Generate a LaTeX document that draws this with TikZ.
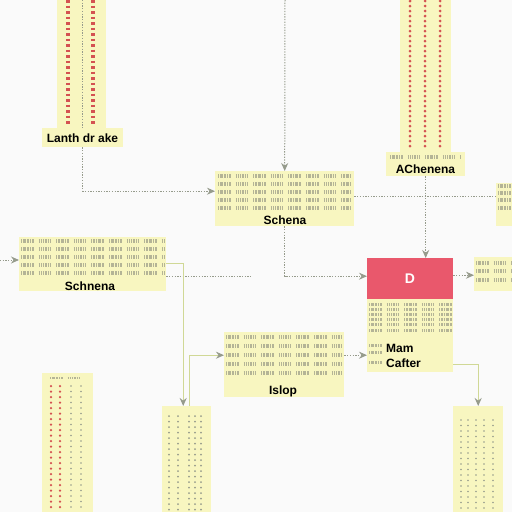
\documentclass[tikz,border=0pt]{standalone}
\usepackage{fontspec}
\setsansfont{Liberation Sans}
\usetikzlibrary{arrows.meta,positioning}
\definecolor{padYellow}{RGB}{248,246,192}
\definecolor{dRed}{RGB}{233,88,108}
\definecolor{dotRed}{RGB}{212,82,82}
\definecolor{wireGray}{RGB}{150,155,140}
\definecolor{wireGreen}{RGB}{208,216,150}
\definecolor{glyphGray}{RGB}{180,180,150}
\definecolor{paper}{RGB}{250,250,250}

\begin{document}
\begin{tikzpicture}[x=1pt,y=-1pt,
    note/.style={fill=padYellow,inner sep=0pt,anchor=north west},
    lbl/.style={font=\sffamily\bfseries\fontsize{12}{13}\selectfont,inner sep=0pt},
    glyphs/.style={draw=glyphGray,line width=4pt,dash pattern=on 1pt off 1pt on 1.5pt off 0.8pt on 0.8pt off 1pt on 2pt off 0.9pt on 1pt off 1pt on 1.6pt off 5pt},
    dotcol/.style={line width=2pt,line cap=round,dash pattern=on 0pt off 5.5pt},
    wire/.style={draw=wireGray,line width=1pt,dash pattern=on 1.3pt off 1.4pt},
    pipe/.style={draw=wireGreen,line width=1.3pt},
    tip/.style={-{Stealth[length=8pt,width=7pt,color=wireGray]}}]
   \fill[paper] (0,0) rectangle (512,512);
   \clip (0,0) rectangle (512,512);

   %TOP LEFT STRIP
   \node[note,minimum width=49pt,minimum height=130pt] (lstrip) at (57,-2) {};
   \draw[dotRed,line width=4pt,dash pattern=on 2.5pt off 3pt] (68,0) -- (68,126);
   \draw[dotRed,line width=4pt,dash pattern=on 2.5pt off 3pt] (93,0) -- (93,126);
   \draw[wire] (82,0) -- (82,128);
   \node[note,minimum width=81pt,minimum height=19pt] (lanth) at (42,128) {};
   \node[lbl] (lanthT) at (82.5,138) {Lanth dr ake};

   %SCHENA
   \node[note,minimum width=139pt,minimum height=55pt] (sch) at (215,171) {};
   \foreach \y in {176,184,192,200,208} \draw[glyphs] (218,\y) -- (352,\y);
   \node[lbl] (schT) at (285,220) {Schena};

   %ACHENENA
   \node[note,minimum width=51pt,minimum height=154pt] (rstrip) at (400,-2) {};
   \foreach \x in {410,425,440} \draw[dotRed,dotcol,line width=3pt,dash pattern=on 0pt off 5pt] (\x,1) -- (\x,150);
   \node[note,minimum width=79pt,minimum height=24pt] (achen) at (386,152) {};
   \draw[glyphs] (390,157) -- (461,157);
   \node[lbl] (achenT) at (425.5,169.5) {AChenena};

   %RIGHT EDGE
   \node[note,minimum width=30pt,minimum height=43pt] (redge) at (496,183) {};
   \foreach \y in {186,193,200,208} \draw[glyphs] (498,\y) -- (512,\y);

   %D AND MAIN
   \node[note,fill=dRed,minimum width=86pt,minimum height=41pt] (dbox) at (367,258) {};
   \node[lbl,text=white,font=\sffamily\bfseries\fontsize{14}{15}\selectfont] (dT) at (410,278.5) {D};
   \node[note,minimum width=86pt,minimum height=73pt] (main) at (367,299) {};
   \foreach \y in {304,309,314,319,324,330} \draw[glyphs,line width=3pt] (369,\y) -- (452,\y);
   \foreach \y in {345,352,362} \draw[glyphs,line width=3pt] (369,\y) -- (382,\y);
   \node[lbl,anchor=west] (mamT) at (386,348) {Mam};
   \node[lbl,anchor=west] (cafT) at (386,363) {Cafter};

   %RIGHT MIDDLE
   \node[note,minimum width=40pt,minimum height=34pt] (rmid) at (474,257) {};
   \foreach \y in {263,271,280} \draw[glyphs] (476,\y) -- (512,\y);

   %SCHNENA
   \node[note,minimum width=147pt,minimum height=54pt] (lbox) at (19,237) {};
   \foreach \y in {241,249,257,265,273} \draw[glyphs] (21,\y) -- (164,\y);
   \node[lbl] (lboxT) at (90,286.5) {Schnena};

   %ISLOP
   \node[note,minimum width=120pt,minimum height=65pt] (islop) at (224,332) {};
   \foreach \y in {337,346,355,364,373} \draw[glyphs] (226,\y) -- (342,\y);
   \node[lbl] (islopT) at (283,391) {Islop};

   %BOTTOM STRIPS
   \node[note,minimum width=51pt,minimum height=140pt] (blstrip) at (42,373) {};
   \draw[glyphs,line width=2.5pt] (50,378) -- (85,378);
   \foreach \x in {51,60} \draw[dotRed,dotcol,line width=2.5pt] (\x,386) -- (\x,512);
   \foreach \x in {71,81} \draw[wireGray,dotcol,line width=1.8pt] (\x,386) -- (\x,512);
   \node[note,minimum width=49pt,minimum height=110pt] (bmstrip) at (162,406) {};
   \foreach \x in {169,178,189,195,201} \draw[wireGray,dotcol,line width=2pt] (\x,416) -- (\x,512);
   \node[note,minimum width=50pt,minimum height=110pt] (brstrip) at (453,406) {};
   \foreach \x in {461,468,476,484,493} \draw[wireGray,dotcol,line width=1.8pt] (\x,420) -- (\x,512);

   %CONNECTORS
   \coordinate (ctop) at (285,0);
   \draw[wire,tip] (ctop) -- (sch.north);
   \draw[wire,tip] (lanth.south) |- ([yshift=7.5pt]sch.west);
   \draw[wire] ([yshift=2.5pt]sch.east) -- ([yshift=2.5pt]sch.east -| redge.west);
   \draw[wire,tip] (achen.south) -- (achen.south |- dbox.north);
   \draw[wire,tip] (sch.south) |- ([yshift=2.5pt]dbox.west);
   \draw[wire,tip] ([yshift=3.5pt]dbox.east) -- ([yshift=3.5pt]dbox.east -| rmid.west);
   \coordinate (cleft) at (0,260);
   \draw[wire,tip] (cleft) -- (cleft -| lbox.west);
   \coordinate (lend) at (252,276);
   \draw[wire] (lend -| lbox.east) -- (lend);
   \draw[pipe,tip] ([yshift=1pt]lbox.east) -| ([xshift=-3.5pt]bmstrip.north);
   \draw[pipe,tip] ([xshift=2.5pt]bmstrip.north) |- ([yshift=9.5pt]islop.west);
   \draw[wire,tip] ([yshift=9.5pt]islop.east) -- ([yshift=9.5pt]islop.east -| main.west);
   \draw[pipe,tip] ([yshift=-28.5pt]main.east) -| (brstrip.north);
\end{tikzpicture}
\end{document}
